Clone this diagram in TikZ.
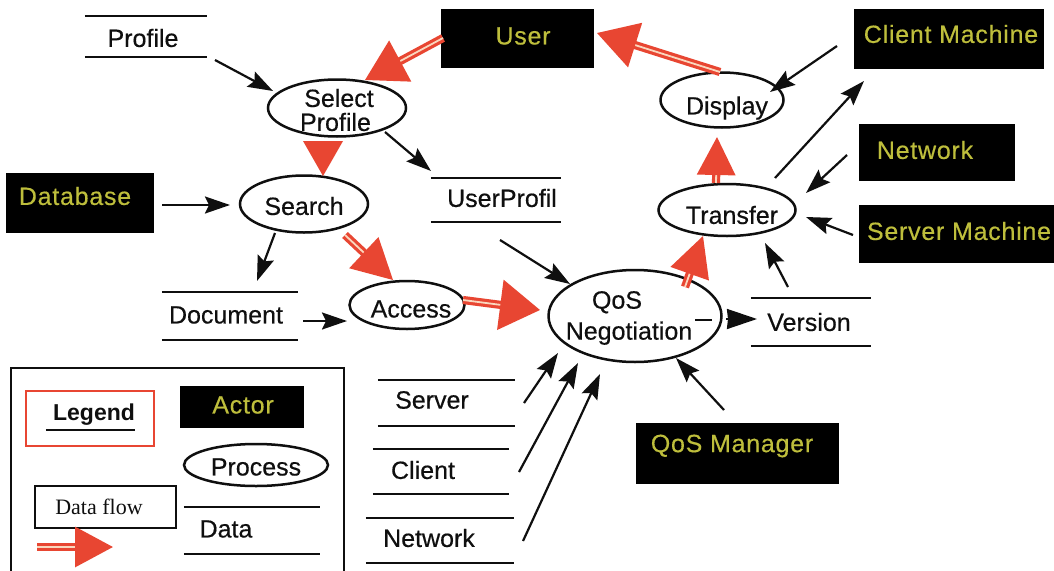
\documentclass[tikz,border=0pt]{standalone}
\usepackage{fontspec}
\setmainfont{Liberation Sans}
\newfontfamily\lblfont[FakeBold=0.4]{Liberation Sans}
\newfontfamily\actorfont[LetterSpace=3,FakeBold=0.4]{Liberation Sans}
\newfontfamily\serifface{Liberation Serif}
\usetikzlibrary{arrows.meta,shapes.geometric}
\definecolor{flowred}{RGB}{232,70,50}
\definecolor{flowpale}{RGB}{250,215,190}
\definecolor{actortxt}{RGB}{190,190,60}
\definecolor{inkblack}{RGB}{15,15,15}
\tikzset{
  x=1pt,y=-1pt,
  lbl/.style={font=\lblfont\fontsize{25}{27}\selectfont,text=inkblack,inner sep=0pt,align=center},
  actorbox/.style={fill=black,draw=none,inner sep=0pt},
  actorlbl/.style={font=\actorfont\fontsize{25}{27}\selectfont,text=actortxt,inner sep=0pt},
  procshape/.style={draw=inkblack,line width=2.5pt,ellipse,inner sep=0pt},
  storeshape/.style={draw=none,inner sep=0pt},
  storeline/.style={draw=inkblack,line width=1.9pt},
  conn/.style={draw=inkblack,line width=2.2pt,-{Stealth[length=25pt,width=17pt,inset=4pt]}},
  flow/.style 2 args={draw=flowred,line width=3.2pt,double=flowpale,double distance=1.8pt,-{Triangle[length=#1pt,width=#2pt]}},
}
\newcommand{\actorn}[8]{% name x1 y1 x2 y2 tx ty text
  \node[actorbox,minimum width={(#4-#2)*1pt},minimum height={(#5-#3)*1pt}] (#1) at ({(#2+#4)/2},{(#3+#5)/2}) {};
  \node[actorlbl] (#1-t) at (#6,#7) {#8};}
\newcommand{\procn}[8]{% name cx cy w h tx ty text
  \node[procshape,minimum width=#4pt,minimum height=#5pt] (#1) at (#2,#3) {};
  \node[lbl] (#1-t) at (#6,#7) {#8};}
\newcommand{\storen}[8]{% name x1 y1 x2 y2 tx ty text
  \node[storeshape,minimum width={(#4-#2)*1pt},minimum height={(#5-#3)*1pt}] (#1) at ({(#2+#4)/2},{(#3+#5)/2}) {};
  \draw[storeline] (#1.north west) -- (#1.north east) (#1.south west) -- (#1.south east);
  \node[lbl] (#1-t) at (#6,#7) {#8};}
\newcommand{\E}[3]{([shift={(#2,#3)}]#1.center)}
\begin{document}
\begin{tikzpicture}
\useasboundingbox (0,0) rectangle (1054,570);
\clip (0,0) rectangle (1054,570);
\fill[white] (0,0) rectangle (1054,570);

% actors
\actorn{user}{441}{9}{594}{68}{523}{36}{User}
\actorn{client}{854}{9}{1044}{69}{951}{34}{Client Machine}
\actorn{net}{859}{124}{1015}{181}{925}{150}{Network}
\actorn{srvm}{859}{205}{1054}{263}{959}{231}{Server Machine}
\actorn{db}{6}{173}{154}{233}{75}{196}{Database}
\actorn{qosm}{636}{423}{839}{484}{732}{446}{QoS Manager}

% processes
\procn{sel}{337}{108}{138}{57}{339}{110}{Select\\[-3pt]Profile\hspace*{7pt}}
\procn{search}{304}{204}{128}{57}{304}{206}{Search}
\procn{access}{407}{305}{115}{48}{411}{309}{Access}
\procn{qos}{635}{316}{173}{92}{629}{318}{\hspace*{-24pt}QoS\\[4pt]Negotiation}
\procn{transfer}{727}{210}{137}{52}{732}{215}{Transfer}
\procn{display}{722}{100}{123}{55}{727}{108}{Display}

% data stores
\storen{prof}{85}{16}{207}{57}{143}{38}{Profile}
\storen{userp}{431}{178}{561}{222}{502}{198}{UserProfil}
\storen{doc}{162}{292}{298}{340}{226}{315}{Document}
\storen{ver}{751}{298}{871}{346}{809}{322}{Version}
\storen{srv}{378}{380}{515}{426}{432}{400}{Server}
\storen{cli}{373}{449}{509}{494}{423}{470}{Client}
\storen{nw}{366}{518}{514}{563}{429}{538}{Network}

% black connectors
\draw[conn] \E{prof}{69}{23.5} -- \E{sel}{-64}{-17};
\draw[conn] \E{sel}{48}{24} -- \E{userp}{-65}{-29};
\draw[conn] \E{db}{82}{2} -- \E{search}{-74}{1};
\draw[conn] \E{search}{-29}{29} -- \E{doc}{27}{-35};
\draw[conn] \E{doc}{73}{5} -- \E{access}{-60}{16};
\draw[conn] \E{userp}{4}{40} -- \E{qos}{-65}{-32};
\draw[draw=inkblack,line width=1.8pt] \E{qos}{60}{4} -- \E{qos}{77}{4};
\draw[draw=inkblack,line width=2pt,-{Stealth[length=30pt,width=20pt,inset=1pt]}] \E{qos}{91}{3} -- \E{ver}{-54}{-3};
\draw[conn] \E{ver}{-23}{-35} -- \E{transfer}{38}{33};
\draw[conn] \E{client}{-112}{7} -- \E{display}{48}{-8};
\draw[conn] \E{transfer}{48}{-32} -- \E{client}{-85}{42};
\draw[conn] \E{net}{-90}{2.5} -- \E{transfer}{79}{-17};
\draw[conn] \E{srvm}{-103.5}{1} -- \E{transfer}{79}{7};
\draw[conn] \E{qosm}{-13.5}{-43.5} -- \E{qos}{41}{42};
\draw[conn] \E{srv}{77.5}{0} -- \E{qos}{-77}{37};
\draw[conn] \E{cli}{78}{0.5} -- \E{qos}{-57}{47};
\draw[conn] \E{nw}{83}{0.5} -- \E{qos}{-35}{58};

% red flows
\draw[flow={40}{46}] \E{user}{-74.5}{-0.5} -- \E{sel}{28}{-28};
\draw[flow={40}{46}] \E{display}{-2}{-28} -- \E{user}{79.5}{-5.5};
\draw[draw=none,fill=flowred] \E{sel}{-34}{33} -- \E{sel}{6}{33} -- \E{search}{19}{-28} -- cycle;
\draw[flow={40}{42}] \E{search}{41}{31} -- \E{access}{-14}{-25};
\draw[flow={40}{50}] \E{access}{56}{-5} -- \E{qos}{-95}{-6};
\draw[flow={38}{38}] \E{transfer}{-11}{-27} -- \E{display}{-5}{37};
\draw[flow={40}{40}] \E{qos}{50}{-29} -- \E{transfer}{-24}{26};

% legend
\draw[inkblack,line width=2pt] (11,368) rectangle (344,585);
\node[draw=flowred,line width=1.5pt,minimum width=128pt,minimum height=55pt,inner sep=0pt] (legendbox) at (90,418.5) {};
\node[inner sep=0pt,text=inkblack,font=\bfseries\fontsize{23}{25}\selectfont] (legendtxt) at (94,415) {Legend};
\draw[inkblack,line width=2pt] ([shift={(-7,4)}]legendtxt.south west) -- ([shift={(0,4)}]legendtxt.south east);
\actorn{lact}{180}{386}{304}{428}{243}{405}{Actor}
\procn{lproc}{256}{465}{144}{42}{256}{467}{Process}
\node[draw=inkblack,line width=2pt,minimum width=141pt,minimum height=42pt,inner sep=0pt] (dfbox) at (105.5,507) {};
\node[inner sep=0pt,text=inkblack,font=\serifface\fontsize{22}{24}\selectfont] (dftxt) at (99,507) {Data flow};
\coordinate (fa) at (37,547);
\coordinate (fb) at (113,547);
\draw[flow={38}{40}] (fa) -- (fb);
\storen{ldata}{184}{507}{320}{554}{226}{529}{Data}
\end{tikzpicture}
\end{document}
